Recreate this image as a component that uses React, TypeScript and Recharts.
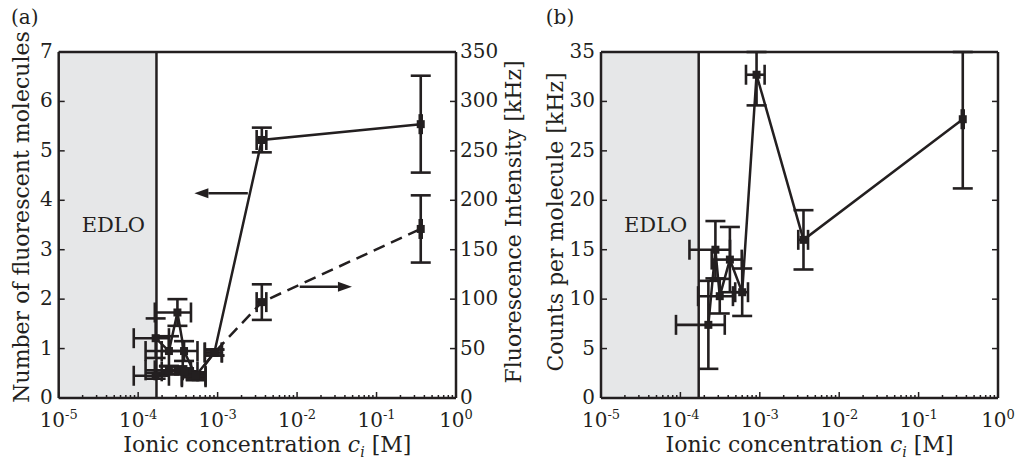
import React from 'react'
import {
  ScatterChart,
  Scatter,
  XAxis,
  YAxis,
  ErrorBar,
  ReferenceArea,
  ReferenceLine,
} from 'recharts'

const INK = '#231f20'
const EDLO_FILL = '#e6e7e8'
const FONT = '"DejaVu Serif", "Liberation Serif", serif'

// concentration axis (log)
const decades = [1e-5, 1e-4, 1e-3, 1e-2, 1e-1, 1]
const decadeExp = ['-5', '-4', '-3', '-2', '-1', '0']
const edloLimit = 1.7e-4

// panel (a): number of molecules (solid, left) and intensity (dashed, right)
const concA = [1.66e-4, 2.44e-4, 3.12e-4, 3.78e-4, 5.3e-4, 9.1e-4, 3.6e-3, 0.36]
const concErrA = [0.78e-4, 1.2e-4, 1.5e-4, 1.8e-4, 1.75e-4, 2.2e-4, 0.5e-3, 0.01]
const molecules = [1.21, 0.95, 1.73, 0.95, 0.45, 0.92, 5.22, 5.54]
const moleculesErr = [0.4, 0.3, 0.27, 0.2, 0.07, 0.06, 0.25, 0.98]
const intensity = [22.5, 28, 28, 27, 21, 46, 97, 171]
const intensityErr = [3, 4, 4, 3, 3, 3, 18, 34]
const moleculeTicks = [0, 1, 2, 3, 4, 5, 6, 7]
const intensityTicks = [0, 50, 100, 150, 200, 250, 300, 350]

// annotation arrows in panel (a), in left-axis units
const arrowsA = [
  { from: 2.4e-3, to: 5.1e-4, level: 4.14 },
  { from: 1.08e-2, to: 4.9e-2, level: 2.25 },
]

// panel (b): counts per molecule (upper errors cut at the frame)
const concB = [2.25e-4, 2.76e-4, 3.13e-4, 4.2e-4, 6.0e-4, 9.1e-4, 3.55e-3, 0.36]
const concErrB = [1.37e-4, 1.46e-4, 1.46e-4, 1.72e-4, 1.1e-4, 2.4e-4, 0.5e-3, 0.01]
const counts = [7.4, 15.0, 10.3, 14.0, 10.7, 32.7, 16.0, 28.2]
const countsErrLow = [4.45, 2.9, 1.75, 3.3, 2.4, 3.1, 3.0, 7.0]
const countsErrHigh = [4.45, 2.9, 1.75, 3.3, 2.4, 2.3, 3.0, 6.8]
const countTicks = [0, 5, 10, 15, 20, 25, 30, 35]

const minorTicks: number[] = []
decades.slice(0, -1).forEach((d) => {
  for (let m = 2; m <= 9; m++) minorTicks.push(m * d)
})
const xTicks = [...decades, ...minorTicks].sort((a, b) => a - b)

const dataSolid = concA.map((x, i) => ({ x, xe: concErrA[i], y: molecules[i], ye: moleculesErr[i] }))
const dataDashed = concA.map((x, i) => ({ x, xe: concErrA[i], y: intensity[i], ye: intensityErr[i] }))
const dataCounts = concB.map((x, i) => ({
  x,
  xe: concErrB[i],
  y: counts[i],
  ye: [countsErrLow[i], countsErrHigh[i]],
}))

const textStyle = { fontFamily: FONT, fontSize: 20, fill: INK }
const titleStyle = { ...textStyle, fontSize: 22 }

function BottomTick(props: any) {
  const { x, y, payload } = props
  const i = decades.indexOf(payload.value)
  return (
    <g>
      <line x1={x} x2={x} y1={y} y2={y - (i >= 0 ? 6 : 3)} stroke={INK} strokeWidth={1.5} />
      {i >= 0 && (
        <text x={x} y={y + 29} textAnchor="middle" {...textStyle}>
          10<tspan dy={-8} fontSize={13}>{decadeExp[i]}</tspan>
        </text>
      )}
    </g>
  )
}

function TopTick(props: any) {
  const { x, y, payload } = props
  const major = decades.indexOf(payload.value) >= 0
  return <line x1={x} x2={x} y1={y} y2={y + (major ? 6 : 3)} stroke={INK} strokeWidth={1.5} />
}

function LeftTick(props: any) {
  const { x, y, payload } = props
  return (
    <g>
      <line x1={x} x2={x + 6} y1={y} y2={y} stroke={INK} strokeWidth={1.5} />
      <text x={x - 6} y={y + 6} textAnchor="end" {...textStyle}>
        {payload.value}
      </text>
    </g>
  )
}

function RightTick(props: any) {
  const { x, y, payload } = props
  return (
    <g>
      <line x1={x} x2={x - 6} y1={y} y2={y} stroke={INK} strokeWidth={1.5} />
      <text x={x + 4} y={y + 6} textAnchor="start" {...textStyle}>
        {payload.value}
      </text>
    </g>
  )
}

function RightTickOnly(props: any) {
  const { x, y } = props
  return <line x1={x} x2={x - 6} y1={y} y2={y} stroke={INK} strokeWidth={1.5} />
}

const SquareDot = (props: any) => (
  <rect x={props.cx - 4} y={props.cy - 4} width={8} height={8} fill={INK} />
)

function ArrowShape(props: any) {
  const { x1, y1, x2, y2 } = props
  const dir = Math.sign(x2 - x1)
  const head = 14
  return (
    <g>
      <line x1={x1} y1={y1} x2={x2 - dir * head} y2={y2} stroke={INK} strokeWidth={2.5} />
      <polygon
        points={`${x2},${y2} ${x2 - dir * head},${y2 - 5} ${x2 - dir * head},${y2 + 5}`}
        fill={INK}
      />
    </g>
  )
}

const xTitle = ({ viewBox }: any) => (
  <text x={viewBox.x + viewBox.width / 2 + 10} y={viewBox.y + 54} textAnchor="middle" {...titleStyle}>
    Ionic concentration <tspan fontStyle="italic">c</tspan>
    <tspan fontStyle="italic" fontSize={14} dy={5}>i</tspan>
    <tspan dy={-5}> [M]</tspan>
  </text>
)

const yTitle = (text: string, dx: number, dy: number) => ({ viewBox }: any) => {
  const cx = viewBox.x + dx
  const cy = viewBox.y + viewBox.height / 2 + dy
  return (
    <text
      x={cx}
      y={cy}
      transform={`rotate(-90 ${cx} ${cy})`}
      textAnchor="middle"
      dominantBaseline="central"
      {...titleStyle}
    >
      {text}
    </text>
  )
}

const panelTitle = (text: string, dx: number) => ({ viewBox }: any) => (
  <text x={viewBox.x + dx} y={viewBox.y + 2} textAnchor="middle" {...textStyle}>
    {text}
  </text>
)

const axisLine = { stroke: INK, strokeWidth: 2.5 }
const edloLabel = { value: 'EDLO', position: 'insideLeft' as const, offset: 23, ...textStyle, fontSize: 21 }
const lineSolid = { stroke: INK, strokeWidth: 2.5 }
const lineDashed = { stroke: INK, strokeWidth: 2.5, strokeDasharray: '12 7' }

function xAxes() {
  return [
    <XAxis
      key="bottom"
      dataKey="x"
      type="number"
      scale="log"
      domain={[1e-5, 1]}
      allowDataOverflow
      ticks={xTicks}
      interval={0}
      tick={<BottomTick />}
      tickLine={false}
      tickSize={0}
      tickMargin={0}
      axisLine={axisLine}
      height={63}
      label={xTitle}
    />,
  ]
}

function errorBars() {
  return [
    <ErrorBar key="ey" dataKey="ye" direction="y" width={10} stroke={INK} strokeWidth={2.6} />,
    <ErrorBar key="ex" dataKey="xe" direction="x" width={10} stroke={INK} strokeWidth={2.6} />,
  ]
}

function PanelA() {
  return (
    <ScatterChart width={530} height={461} margin={{ top: 22, right: 0, bottom: 0, left: 0 }}>
      {xAxes()}
      <XAxis
        xAxisId="top"
        orientation="top"
        type="number"
        scale="log"
        domain={[1e-5, 1]}
        allowDataOverflow
        ticks={xTicks}
        interval={0}
        tick={<TopTick />}
        tickLine={false}
        tickSize={0}
        tickMargin={0}
        axisLine={axisLine}
        height={30}
        label={panelTitle('(a)', -34)}
      />
      <YAxis
        yAxisId="l"
        dataKey="y"
        type="number"
        domain={[0, 7]}
        allowDataOverflow
        ticks={moleculeTicks}
        interval={0}
        tick={<LeftTick />}
        tickLine={false}
        tickSize={0}
        tickMargin={0}
        axisLine={axisLine}
        width={58.7}
        label={yTitle('Number of fluorescent molecules', 21, -8)}
      />
      <YAxis
        yAxisId="r"
        orientation="right"
        dataKey="y"
        type="number"
        domain={[0, 350]}
        allowDataOverflow
        ticks={intensityTicks}
        interval={0}
        tick={<RightTick />}
        tickLine={false}
        tickSize={0}
        tickMargin={0}
        axisLine={axisLine}
        width={74}
        label={yTitle('Fluorescence Intensity [kHz]', 57, -3)}
      />
      <ReferenceArea yAxisId="l" x1={1e-5} x2={edloLimit} fill={EDLO_FILL} fillOpacity={1} label={edloLabel} />
      <ReferenceLine yAxisId="l" x={edloLimit} stroke={INK} strokeWidth={2.5} />
      {arrowsA.map((a, i) => (
        <ReferenceLine
          key={i}
          yAxisId="l"
          segment={[
            { x: a.from, y: a.level },
            { x: a.to, y: a.level },
          ]}
          shape={ArrowShape}
        />
      ))}
      <Scatter
        yAxisId="r"
        data={dataDashed}
        line={lineDashed}
        lineType="joint"
        shape={SquareDot}
        fill={INK}
        isAnimationActive={false}
      >
        {errorBars()}
      </Scatter>
      <Scatter
        yAxisId="l"
        data={dataSolid}
        line={lineSolid}
        lineType="joint"
        shape={SquareDot}
        fill={INK}
        isAnimationActive={false}
      >
        {errorBars()}
      </Scatter>
    </ScatterChart>
  )
}

function PanelB() {
  return (
    <ScatterChart width={493} height={461} margin={{ top: 22, right: 0, bottom: 0, left: 0 }}>
      {xAxes()}
      <XAxis
        xAxisId="top"
        orientation="top"
        type="number"
        scale="log"
        domain={[1e-5, 1]}
        allowDataOverflow
        ticks={xTicks}
        interval={0}
        tick={<TopTick />}
        tickLine={false}
        tickSize={0}
        tickMargin={0}
        axisLine={axisLine}
        height={30}
        label={panelTitle('(b)', -41)}
      />
      <YAxis
        yAxisId="l"
        dataKey="y"
        type="number"
        domain={[0, 35]}
        allowDataOverflow
        ticks={countTicks}
        interval={0}
        tick={<LeftTick />}
        tickLine={false}
        tickSize={0}
        tickMargin={0}
        axisLine={axisLine}
        width={71}
        label={yTitle('Counts per molecule [kHz]', 25, -3)}
      />
      <YAxis
        yAxisId="r"
        orientation="right"
        type="number"
        domain={[0, 35]}
        allowDataOverflow
        ticks={countTicks}
        interval={0}
        tick={<RightTickOnly />}
        tickLine={false}
        tickSize={0}
        tickMargin={0}
        axisLine={axisLine}
        width={25}
      />
      <ReferenceArea yAxisId="l" x1={1e-5} x2={edloLimit} fill={EDLO_FILL} fillOpacity={1} label={edloLabel} />
      <ReferenceLine yAxisId="l" x={edloLimit} stroke={INK} strokeWidth={2.5} />
      <Scatter
        yAxisId="l"
        data={dataCounts}
        line={lineSolid}
        lineType="joint"
        shape={SquareDot}
        fill={INK}
        isAnimationActive={false}
      >
        {errorBars()}
      </Scatter>
    </ScatterChart>
  )
}

export default function App() {
  return (
    <div style={{ position: 'absolute', left: 0, top: 0, width: 1023, height: 461, background: '#fff' }}>
      <div style={{ position: 'absolute', left: 0, top: 0 }}>
        <PanelA />
      </div>
      <div style={{ position: 'absolute', left: 530, top: 0 }}>
        <PanelB />
      </div>
    </div>
  )
}
